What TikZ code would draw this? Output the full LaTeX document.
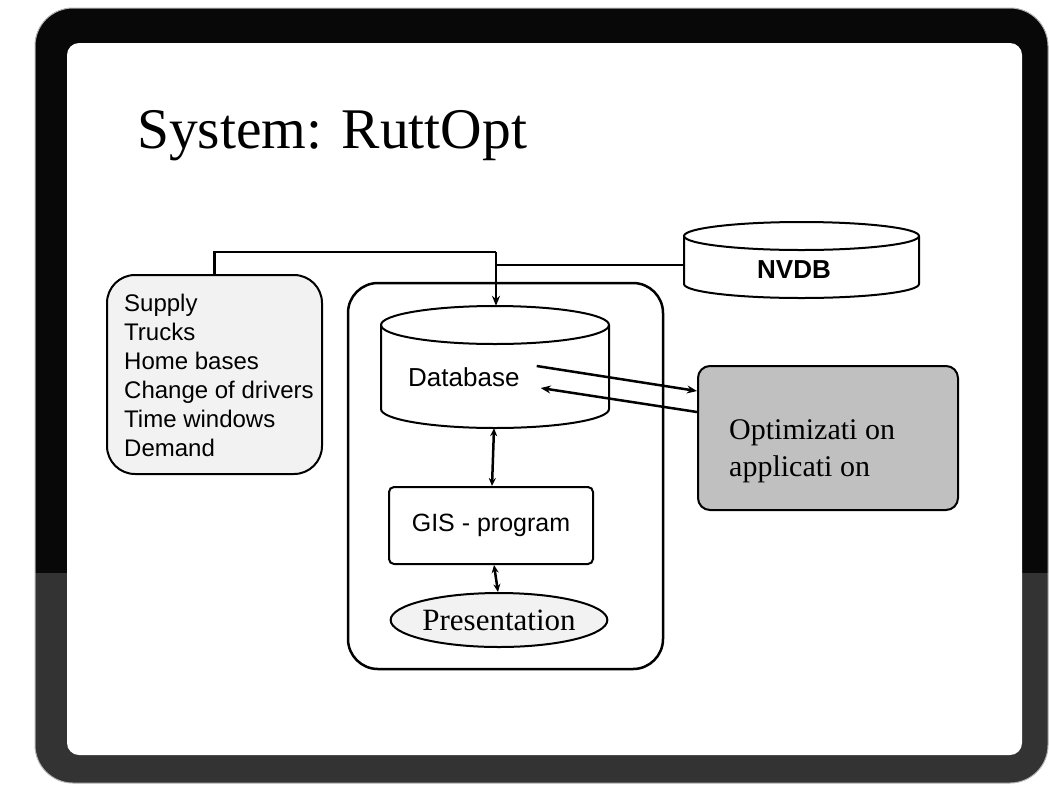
\documentclass[tikz,border=0pt]{standalone}
\usepackage{fontspec}
\setmainfont{Liberation Serif}
\setsansfont{Liberation Sans}
\usetikzlibrary{arrows.meta,shapes.geometric}
\definecolor{framegray}{HTML}{333333}
\definecolor{framedark}{HTML}{080808}
\definecolor{lightfill}{HTML}{F2F2F2}
\definecolor{optfill}{HTML}{C0C0C0}
\tikzset{
  boxline/.style={draw=black, line width=2pt},
  conn/.style={draw=black, line width=2.5pt},
  arr/.style={conn, -{Stealth[length=10pt,width=8pt]}},
  dblarr/.style={conn, {Stealth[length=8pt,width=7pt]}-{Stealth[length=8pt,width=7pt]}},
  sanstxt/.style={font=\sffamily\fontsize{#1}{#1}\selectfont, inner sep=0pt},
  seriftxt/.style={font=\rmfamily\fontsize{#1}{#1}\selectfont, inner sep=0pt},
}
\begin{document}
\begin{tikzpicture}[x=1pt,y=-1pt]
\useasboundingbox (0,0) rectangle (1049,785);
% frame
\fill[framegray, rounded corners=38pt] (35,8) rectangle (1048,783);
\begin{scope}
  \clip (0,0) rectangle (1049,572);
  \fill[framedark, rounded corners=38pt] (35,8) rectangle (1048,783);
\end{scope}
\draw[gray!60, line width=1pt, rounded corners=38pt] (35,8) rectangle (1048,783);
\fill[white, rounded corners=12pt] (67,43) rectangle (1022,755);
% title
\node[seriftxt=57.5, anchor=base west] (title) at (137,148) {System: RuttOpt};
% left box
\node[boxline, fill=lightfill, rounded corners=28pt, minimum width=215pt, minimum height=199pt, inner sep=0pt] (lbox) at (214.5,374.5) {};
\node[font=\sffamily\fontsize{24}{29}\selectfont, inner sep=0pt, align=left, anchor=north west] (ltxt) at (124,294) {Supply\\Trucks\\Home bases\\Change of drivers\\Time windows\\Demand};
% container
\node[draw=black, line width=2.5pt, rounded corners=30pt, minimum width=315pt, minimum height=386pt, inner sep=0pt] (cont) at (505.5,476) {};
% NVDB cylinder
\node[minimum width=235pt, minimum height=76pt, inner sep=0pt] (nvdb) at (801.5,260) {};
\draw[boxline, fill=white] (684,236) -- (684,284) arc[start angle=180, end angle=0, x radius=117.5, y radius=14] -- (919,236);
\draw[boxline] (801.5,236) ellipse[x radius=117.5, y radius=14];
\node[font=\sffamily\bfseries\fontsize{26}{26}\selectfont, inner sep=0pt] (nvdbl) at (794,270) {NVDB};
% Database cylinder
\node[minimum width=228pt, minimum height=122pt, inner sep=0pt] (db) at (495,367) {};
\draw[boxline, fill=white] (381,325) -- (381,409) arc[start angle=180, end angle=0, x radius=114, y radius=19] -- (609,325);
\draw[boxline] (495,325) ellipse[x radius=114, y radius=19];
\node[sanstxt=26, anchor=west] (dbl) at (408,377) {Database};
% optimization box
\node[boxline, fill=optfill, rounded corners=12pt, minimum width=260pt, minimum height=144pt, inner sep=0pt] (opt) at (828,438) {};
\node[font=\rmfamily\fontsize{30}{37}\selectfont, inner sep=0pt, align=left, anchor=north west] (opttxt) at (729,419) {Optimizati on\\applicati on};
% GIS box
\node[boxline, rounded corners=5pt, minimum width=204pt, minimum height=77pt, inner sep=0pt] (gis) at (491,525.5) {};
\node[sanstxt=25] (gisl) at (491,525) {GIS - program};
% presentation
\node[boxline, ellipse, fill=lightfill, minimum width=208pt, minimum height=54pt, inner sep=0pt, font=\rmfamily\fontsize{31}{31}\selectfont] (pres) at (499,620) {Presentation};
% connectors
\coordinate (top) at (496,252);
\coordinate (j) at (496,265);
\draw[conn] (lbox.north) |- (top);
\draw[arr] (top) -- ([xshift=1pt]db.north);
\draw[conn] ([shift={(0,5)}]nvdb.west) -- (j);
\draw[arr] ([shift={(17,-11)}]dbl.east) -- ([shift={(0,-47)}]opt.west);
\draw[arr] ([shift={(0,-26)}]opt.west) -- ([shift={(21,11)}]dbl.east);
\draw[dblarr] ([xshift=-1pt]db.south) -- ([xshift=1pt]gis.north);
\draw[dblarr] ([xshift=3pt]gis.south) -- ([xshift=-1pt]pres.north);
\end{tikzpicture}
\end{document}
